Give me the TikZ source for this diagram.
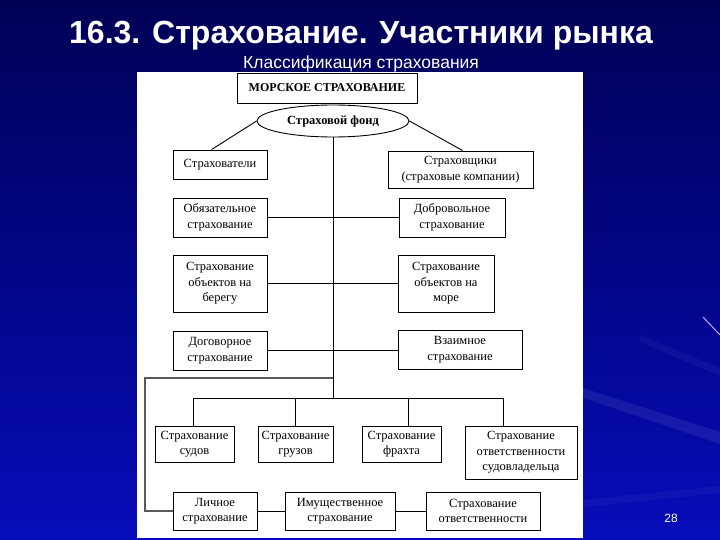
\documentclass[tikz,border=0pt]{standalone}
\usepackage{fontspec}
\setmainfont{Liberation Serif}
\newfontfamily\arialf{Liberation Sans}
\usetikzlibrary{shapes.geometric,calc}
\definecolor{bgtop}{RGB}{0,0,85}
\definecolor{bgbot}{RGB}{6,12,185}
\definecolor{streak}{RGB}{200,160,255}
\tikzset{
  box/.style={draw=black, line width=0.9pt, fill=white, inner sep=0pt, align=center,
    font=\fontsize{12.5}{15.5}\selectfont},
  conn/.style={draw=black, line width=0.9pt},
}
\newcommand{\bx}[6]{\node[box, minimum width=#3-#2, minimum height=#5-#4] (#1) at ({(#2+#3)/2},{(#4+#5)/2}) {#6};}
\begin{document}
\begin{tikzpicture}[x=1pt,y=-1pt]
\useasboundingbox (0,0) rectangle (720,540);
\shade[top color=bgtop, bottom color=bgbot] (0,0) rectangle (720,540);
% faint streaks
\fill[white, opacity=0.07] (583,388) -- (720,432) -- (720,444) -- (583,398) -- cycle;
\fill[white, opacity=0.04] (640,335) -- (720,368) -- (720,376) -- (640,342) -- cycle;
\fill[white, opacity=0.04] (583,500) -- (720,486) -- (720,493) -- (583,507) -- cycle;
\draw[streak, line width=1pt] (703,317) -- (720,335);
% title
\node[anchor=base, text=white, font=\arialf\bfseries\fontsize{32}{34}\selectfont] (title) at (361,44) {16.3. Страхование. Участники рынка};
% panel
\fill[white] (137,72) rectangle (583,538);
\node[anchor=base, text=white, font=\arialf\fontsize{17.5}{19}\selectfont] (sub) at (361,69) {Классификация страхования};
\node[anchor=center, text=white, font=\arialf\fontsize{12}{14}\selectfont] (pg) at (671,518) {28};
% boxes
\bx{mor}{237}{417}{73}{103}{\bfseries\fontsize{12}{14}\selectfont МОРСКОЕ СТРАХОВАНИЕ}
\node[ellipse, draw=black, line width=0.9pt, fill=white, minimum width=152, minimum height=32, inner sep=0pt,
  font=\bfseries\fontsize{12.5}{14}\selectfont] (fond) at (333,121) {Страховой фонд};
\bx{strv}{173}{267}{150}{179}{Страхователи}
\bx{strsh}{388}{533}{151}{188}{Страховщики\\(страховые компании)}
\bx{obyaz}{173}{267}{198}{237}{Обязательное\\страхование}
\bx{dobr}{399}{505}{198}{237}{Добровольное\\страхование}
\bx{bereg}{173}{267}{255}{312}{Страхование\\объектов на\\берегу}
\bx{more}{398}{494}{255}{312}{Страхование\\объектов на\\море}
\bx{dogov}{173}{267}{331}{370}{Договорное\\страхование}
\bx{vzaim}{398}{522}{330}{369}{Взаимное\\страхование}
\bx{sudov}{155}{234}{426}{462}{Страхование\\судов}
\bx{gruz}{258}{333}{426}{462}{Страхование\\грузов}
\bx{frakht}{362}{441}{426}{462}{Страхование\\фрахта}
\bx{sudovl}{465}{577}{426}{479}{Страхование\\ответственности\\судовладельца}
\bx{lichn}{173}{257}{492}{530}{Личное\\страхование}
\bx{imush}{285}{395}{492}{530}{Имущественное\\страхование}
\bx{otv}{426}{540}{492}{530}{Страхование\\ответственности}
% connectors
\coordinate (br) at (333,398);
\coordinate (lp) at (333,378);
\coordinate (d1) at (193,398);
\coordinate (d2) at (295.5,398);
\coordinate (d3) at (408,398);
\coordinate (d4) at (503,398);
\coordinate (l1) at (145,378);
\coordinate (l2) at (145,511);
\draw[conn] (fond.west) -- ([xshift=39pt]strv.north west);
\draw[conn] (fond.east) -- ([xshift=75pt]strsh.north west);
\draw[conn] (fond.south) -- (br);
\draw[conn] (obyaz.east) -- (obyaz.east -| dobr.west);
\draw[conn] (bereg.east) -- (bereg.east -| more.west);
\draw[conn] (dogov.east) -- (dogov.east -| vzaim.west);
\draw[conn] (d1) -- (d4);
\draw[conn] (d1) -- (d1 |- sudov.north);
\draw[conn] (d2) -- (d2 |- gruz.north);
\draw[conn] (d3) -- (d3 |- frakht.north);
\draw[conn] (d4) -- (d4 |- sudovl.north);
\draw[gray!70!black, line width=1.2pt] (lp) -- (l1) -- (l2) -- (l2 -| lichn.west);
\draw[conn] (l2 -| lichn.east) -- (l2 -| imush.west);
\draw[conn] (l2 -| imush.east) -- (l2 -| otv.west);
\end{tikzpicture}
\end{document}
